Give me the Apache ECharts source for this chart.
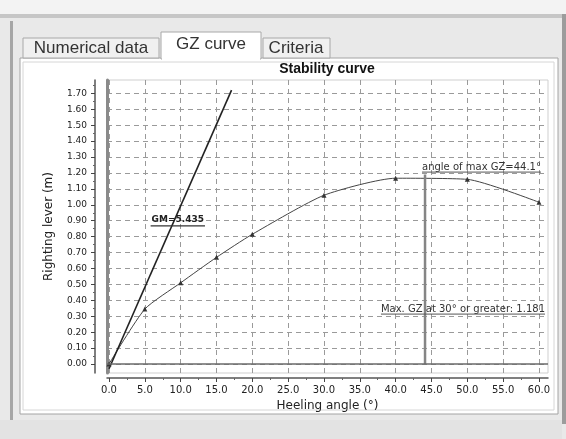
<!DOCTYPE html>
<html><head><meta charset="utf-8">
<script src="https://cdn.jsdelivr.net/npm/echarts@6/dist/echarts.min.js"></script>
<style>html,body{margin:0;padding:0;background:#e9e9e9}#c{width:566px;height:439px}</style>
</head><body><div id="c"></div>
<script>
// ---- data ----
const angles = [0, 5, 10, 15, 20, 30, 40, 50, 60];
const gz = [0, 0.345, 0.51, 0.67, 0.815, 1.06, 1.167, 1.16, 1.016];
const gmLineAngles = [0, 17.1];
const gmLineGz = [-0.03, 1.72];
const maxGzAngle = 44.1;
const maxGzTop = 1.19;
const xTicks = [0, 5, 10, 15, 20, 25, 30, 35, 40, 45, 50, 55, 60];
const yTicks = [0, 0.1, 0.2, 0.3, 0.4, 0.5, 0.6, 0.7, 0.8, 0.9, 1.0, 1.1, 1.2, 1.3, 1.4, 1.5, 1.6, 1.7];
const xMinor = [2.5, 7.5, 12.5, 17.5, 22.5, 27.5, 32.5, 37.5, 42.5, 47.5, 52.5, 57.5];
const yMinor = [0.05, 0.15, 0.25, 0.35, 0.45, 0.55, 0.65, 0.75, 0.85, 0.95, 1.05, 1.15, 1.25, 1.35, 1.45, 1.55, 1.65, 1.75];
const tabNames = ['Numerical data', 'GZ curve', 'Criteria'];
const titleText = 'Stability curve';
const xName = 'Heeling angle (°)';
const yName = 'Righting lever (m)';
const gmLabel = 'GM=5.435';
const maxAngleLabel = 'angle of max GZ=44.1°';
const maxGzLabel = 'Max. GZ at 30° or greater: 1.181';

const X_MIN = -0.28, X_MAX = 61.26, Y_MIN = -0.0565, Y_MAX = 1.784;
const axisFont = 'DejaVu Sans';

const chart = echarts.init(document.getElementById('c'));

const chrome = [
  {type:'rect', id:'top', z:-20, shape:{x:0,y:0,width:566,height:14}, style:{fill:'#f3f3f3'}},
  {type:'rect', id:'topline', z:-20, shape:{x:0,y:14,width:566,height:4}, style:{fill:'#c6c6c6'}},
  {type:'rect', id:'leftbar', z:-20, shape:{x:10,y:21,width:3,height:400}, style:{fill:'#a6a6a6'}},
  {type:'rect', id:'rightbar', z:-20, shape:{x:562,y:14,width:4,height:410}, style:{fill:'#9c9c9c'}},
  {type:'rect', id:'panel', z:-19, shape:{x:20,y:58,width:538,height:356}, style:{fill:'#fff', stroke:'#a4a4a4', lineWidth:1}},
  {type:'rect', id:'inner', z:-18, shape:{x:23,y:62,width:531,height:348}, style:{fill:'#fff', stroke:'#d6d6d6', lineWidth:1}},
  {type:'rect', id:'tab0', z:-17, shape:{x:23,y:38,width:136,height:20}, style:{fill:'#f0f0f0', stroke:'#a8a8a8'}},
  {type:'rect', id:'tab2', z:-17, shape:{x:263,y:38,width:67,height:20}, style:{fill:'#f0f0f0', stroke:'#a8a8a8'}},
  {type:'rect', id:'tab1', z:-16, shape:{x:161,y:32,width:100,height:27}, style:{fill:'#fff', stroke:'#a8a8a8'}},
  {type:'rect', id:'tab1cover', z:-15, shape:{x:162,y:56,width:98,height:4}, style:{fill:'#fff'}},
  {type:'text', id:'tabt0', z:-14, x:91, y:48, style:{text:tabNames[0], fill:'#333', font:'17px "Liberation Sans"', textAlign:'center', textVerticalAlign:'middle'}},
  {type:'text', id:'tabt1', z:-14, x:211, y:44, style:{text:tabNames[1], fill:'#333', font:'17px "Liberation Sans"', textAlign:'center', textVerticalAlign:'middle'}},
  {type:'text', id:'tabt2', z:-14, x:296, y:48, style:{text:tabNames[2], fill:'#333', font:'17px "Liberation Sans"', textAlign:'center', textVerticalAlign:'middle'}},
  {type:'rect', id:'bottom', z:-20, shape:{x:0,y:420,width:562,height:19}, style:{fill:'#e3e3e3'}},
  {type:'text', id:'title', z:5, x:327, y:69, style:{text:titleText, fill:'#111', font:'bold 14px "Liberation Sans"', textAlign:'center', textVerticalAlign:'middle'}}
];

const gridLine = {show:true, lineStyle:{type:[5,4], color:'#9a9a9a', width:1}};

const option = {
  animation: false,
  backgroundColor: 'transparent',
  grid: {left:107, right:18, top:80, bottom:66, show:true, borderColor:'#cfcfcf', borderWidth:1, backgroundColor:'transparent'},
  xAxis: [
    {type:'value', min:X_MIN, max:X_MAX, position:'bottom', offset:5,
     axisLine:{show:true, onZero:false, lineStyle:{color:'#555', width:1.5}},
     axisTick:{show:true, customValues:xTicks, length:4, lineStyle:{color:'#444'}},
     axisLabel:{customValues:xTicks, formatter:v=>v.toFixed(1), fontSize:10, color:'#222', fontFamily:axisFont, margin:7},
     splitLine:gridLine,
     name:xName, nameLocation:'middle', nameGap:21,
     nameTextStyle:{fontSize:12, color:'#222', fontFamily:axisFont}},
    {type:'value', min:X_MIN, max:X_MAX, position:'bottom', offset:5,
     axisLine:{show:false, onZero:false},
     axisTick:{show:true, customValues:xMinor, length:2, lineStyle:{color:'#666'}},
     axisLabel:{show:false}, splitLine:{show:false}}
  ],
  yAxis: [
    {type:'value', min:Y_MIN, max:Y_MAX, position:'left', offset:12,
     axisLine:{show:true, onZero:false, lineStyle:{color:'#555', width:1.5}},
     axisTick:{show:true, customValues:yTicks, length:4, lineStyle:{color:'#444'}},
     axisLabel:{customValues:yTicks, formatter:v=>v.toFixed(2), fontSize:9, color:'#222', fontFamily:axisFont, margin:8},
     splitLine:gridLine,
     name:yName, nameLocation:'middle', nameGap:40, nameRotate:90,
     nameTextStyle:{fontSize:12, color:'#222', fontFamily:axisFont}},
    {type:'value', min:Y_MIN, max:Y_MAX, position:'left', offset:12,
     axisLine:{show:false, onZero:false},
     axisTick:{show:true, customValues:yMinor, length:2, lineStyle:{color:'#666'}},
     axisLabel:{show:false}, splitLine:{show:false}},
    {type:'value', min:Y_MIN, max:Y_MAX, position:'left', offset:0,
     axisLine:{show:true, onZero:false, lineStyle:{color:'#8a8a8a', width:3}},
     axisTick:{show:false}, axisLabel:{show:false}, splitLine:{show:false}}
  ],
  series: [
    {type:'line', name:'GZ', xAxisIndex:0, yAxisIndex:0,
     data:angles.map((a,i)=>[a, gz[i]]), smooth:0.2,
     symbol:'triangle', symbolSize:5, showSymbol:true,
     itemStyle:{color:'#333'}, lineStyle:{color:'#444', width:1},
     markLine:{silent:true, symbol:'none', label:{show:false},
       lineStyle:{type:'solid', color:'#6a6a6a', width:1.5}, data:[{yAxis:0}]}},
    {type:'line', name:'GM', xAxisIndex:0, yAxisIndex:0,
     data:gmLineAngles.map((a,i)=>[a, gmLineGz[i]]), symbol:'none',
     lineStyle:{color:'#222', width:1.6}},
    {type:'line', name:'maxGZ', xAxisIndex:0, yAxisIndex:0,
     data:[[maxGzAngle, 0], [maxGzAngle, maxGzTop]], symbol:'none',
     lineStyle:{color:'#858585', width:2.5}}
  ],
  graphic: chrome
};
chart.setOption(option);

const px = (x, y) => chart.convertToPixel({seriesIndex:0}, [x, y]);
const lblFont = '10px "DejaVu Sans"';
const gmP = px(9.6, 0.905);
const maP = px(maxGzAngle, 1.237);
const mgP = px(60.84, 0.345);
function w(t, f){ const c=document.createElement('canvas').getContext('2d'); c.font=f; return c.measureText(t).width; }
const gmFont = 'bold 9px "DejaVu Sans"';
const gmW = w(gmLabel, gmFont), maW = w(maxAngleLabel, lblFont), mgW = w(maxGzLabel, lblFont);
chart.setOption({graphic: [
  {type:'text', id:'gmT', z:10, x:gmP[0], y:gmP[1], style:{text:gmLabel, font:gmFont, fill:'#222', textAlign:'center', textVerticalAlign:'middle'}},
  {type:'line', id:'gmU', z:10, shape:{x1:gmP[0]-gmW/2-1, y1:gmP[1]+6, x2:gmP[0]+gmW/2+1, y2:gmP[1]+6}, style:{stroke:'#333', lineWidth:1.2}},
  {type:'text', id:'maT', z:10, x:maP[0]-3, y:maP[1], style:{text:maxAngleLabel, font:lblFont, fill:'#333', textAlign:'left', textVerticalAlign:'middle'}},
  {type:'line', id:'maU', z:10, shape:{x1:maP[0]-3, y1:maP[1]+5, x2:maP[0]-3+maW, y2:maP[1]+5}, style:{stroke:'#555', lineWidth:1}},
  {type:'text', id:'mgT', z:10, x:mgP[0], y:mgP[1], style:{text:maxGzLabel, font:lblFont, fill:'#333', textAlign:'right', textVerticalAlign:'middle'}},
  {type:'line', id:'mgU', z:10, shape:{x1:mgP[0]-mgW, y1:mgP[1]+5, x2:mgP[0], y2:mgP[1]+5}, style:{stroke:'#555', lineWidth:1}}
]});
</script>
</body></html>
